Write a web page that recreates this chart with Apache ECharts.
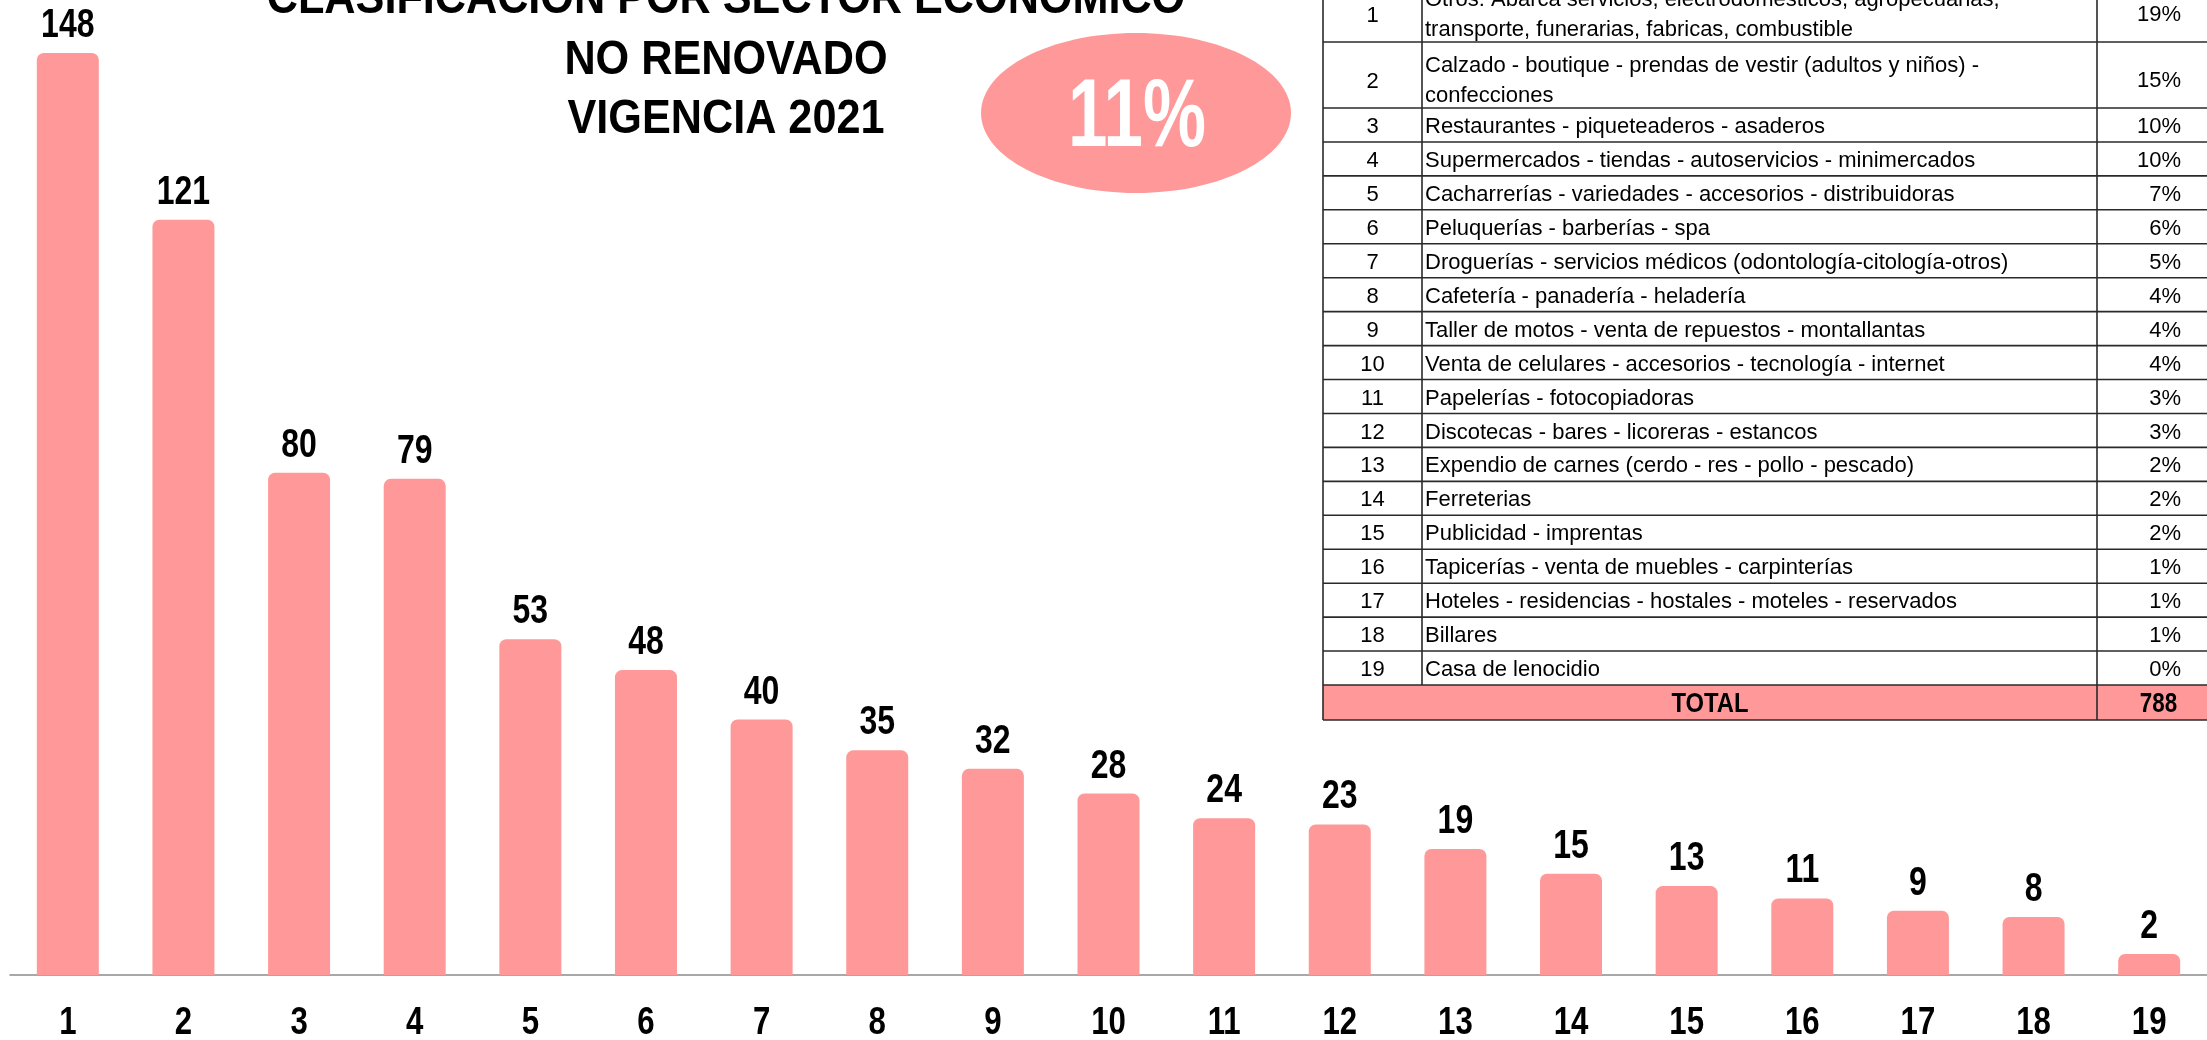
<!DOCTYPE html>
<html>
<head>
<meta charset="utf-8">
<script src="https://cdn.jsdelivr.net/npm/echarts@6/dist/echarts.min.js"></script>
<style>
html,body{margin:0;padding:0;background:#ffffff;}
#chart{width:2207px;height:1040px;}
</style>
</head>
<body>
<div id="chart"></div>
<script>
// ---------- DATA ----------
const categories = ['1','2','3','4','5','6','7','8','9','10','11','12','13','14','15','16','17','18','19'];
const counts = [148,121,80,79,53,48,40,35,32,28,24,23,19,15,13,11,9,8,2];
const sectorNames = [
  'Otros: Abarca servicios, electrodomesticos, agropecuarias,\ntransporte, funerarias, fabricas, combustible',
  'Calzado - boutique - prendas de vestir (adultos y niños) -\nconfecciones',
  'Restaurantes - piqueteaderos - asaderos',
  'Supermercados - tiendas - autoservicios - minimercados',
  'Cacharrerías - variedades - accesorios - distribuidoras',
  'Peluquerías - barberías - spa',
  'Droguerías - servicios médicos (odontología-citología-otros)',
  'Cafetería - panadería - heladería',
  'Taller de motos - venta de repuestos - montallantas',
  'Venta de celulares - accesorios - tecnología - internet',
  'Papelerías - fotocopiadoras',
  'Discotecas - bares - licoreras - estancos',
  'Expendio de carnes (cerdo - res - pollo - pescado)',
  'Ferreterias',
  'Publicidad - imprentas',
  'Tapicerías - venta de muebles - carpinterías',
  'Hoteles - residencias - hostales - moteles - reservados',
  'Billares',
  'Casa de lenocidio'
];
const sectorPercents = ['19%','15%','10%','10%','7%','6%','5%','4%','4%','4%','3%','3%','2%','2%','2%','1%','1%','1%','0%'];
const titleLines = ['CLASIFICACION POR SECTOR ECONOMICO','NO RENOVADO','VIGENCIA 2021'];
const highlightPercent = '11%';
const totalLabel = 'TOTAL';
const totalValue = '788';

// ---------- STYLE / LAYOUT ----------
const PINK = '#FF9999';
const SANS = "'Liberation Sans',Arial,sans-serif";
const Y_MIN = -1.41, Y_MAX = 156.6;

const chart = echarts.init(document.getElementById('chart'), null, {renderer: 'canvas'});

// table layout
const tb = {left: 1323, c1: 1422, c2: 2097, right: 2220, bottomRowsEnd: 685, totalH: 35, dbl: 66};
const graphics = [];

// title
const titleY = [0, 61, 120];
titleLines.forEach((t, i) => {
  graphics.push({
    type: 'text', x: 726, y: titleY[i], scaleX: 0.9,
    style: {text: t, font: 'bold 48px ' + SANS, fill: '#000', align: 'center', verticalAlign: 'middle'}
  });
});
// ellipse with percentage
graphics.push({type: 'ellipse', shape: {cx: 1136, cy: 113, rx: 155, ry: 80}, style: {fill: PINK}});
graphics.push({
  type: 'text', x: 1137, y: 119, scaleX: 0.73,
  style: {text: highlightPercent, font: 'bold 97px ' + SANS, fill: '#fff', align: 'center', verticalAlign: 'middle'}
});

// table rows
const single = (tb.bottomRowsEnd - 42 - tb.dbl) / (sectorNames.length - 2);
let yTop = 42 - tb.dbl;
const lineStyle = {stroke: '#2a2a2a', lineWidth: 1.6};
const tableTop = yTop;
sectorNames.forEach((name, i) => {
  const lines = name.split('\n');
  const two = lines.length > 1;
  const h = two ? tb.dbl : single;
  const cy = yTop + h / 2 + 2;
  graphics.push({type: 'line', shape: {x1: tb.left, y1: yTop, x2: tb.right, y2: yTop}, style: lineStyle});
  graphics.push({type: 'text', x: (tb.left + tb.c1) / 2, y: cy + (two ? 5 : 0),
    style: {text: categories[i], font: '22px ' + SANS, fill: '#000', align: 'center', verticalAlign: 'middle'}});
  graphics.push({type: 'text', x: tb.c1 + 3, y: cy + (two ? 4 : 0),
    style: {text: name, font: '22px ' + SANS, lineHeight: 30, fill: '#000', align: 'left', verticalAlign: 'middle'}});
  graphics.push({type: 'text', x: 2181, y: cy + (two ? 4 : 0),
    style: {text: sectorPercents[i], font: '22px ' + SANS, fill: '#000', align: 'right', verticalAlign: 'middle'}});
  yTop += h;
});
// total row
graphics.push({type: 'rect', shape: {x: tb.left, y: yTop, width: tb.right - tb.left, height: tb.totalH}, style: {fill: PINK}});
graphics.push({type: 'line', shape: {x1: tb.left, y1: yTop, x2: tb.right, y2: yTop}, style: lineStyle});
graphics.push({type: 'line', shape: {x1: tb.left, y1: yTop + tb.totalH, x2: tb.right, y2: yTop + tb.totalH}, style: lineStyle});
graphics.push({type: 'text', x: (tb.left + tb.c2) / 2, y: yTop + tb.totalH / 2 + 2, scaleX: 0.85,
  style: {text: totalLabel, font: 'bold 28px ' + SANS, fill: '#000', align: 'center', verticalAlign: 'middle'}});
graphics.push({type: 'text', x: (tb.c2 + tb.right) / 2, y: yTop + tb.totalH / 2 + 2, scaleX: 0.8,
  style: {text: totalValue, font: 'bold 28px ' + SANS, fill: '#000', align: 'center', verticalAlign: 'middle'}});
// vertical lines
const tableBottom = yTop + tb.totalH;
graphics.push({type: 'line', shape: {x1: tb.left, y1: tableTop, x2: tb.left, y2: tableBottom}, style: lineStyle});
graphics.push({type: 'line', shape: {x1: tb.c1, y1: tableTop, x2: tb.c1, y2: yTop}, style: lineStyle});
graphics.push({type: 'line', shape: {x1: tb.c2, y1: tableTop, x2: tb.c2, y2: tableBottom}, style: lineStyle});

const option = {
  backgroundColor: '#ffffff',
  animation: false,
  grid: {left: 10, right: -3, top: 0, bottom: 65, containLabel: false},
  xAxis: {
    type: 'category',
    data: categories,
    axisLine: {show: true, onZero: false, lineStyle: {color: '#8c8c8c', width: 1.5}},
    axisTick: {show: false},
    axisLabel: {show: false},
    splitLine: {show: false}
  },
  yAxis: {
    type: 'value', min: Y_MIN, max: Y_MAX, startValue: Y_MIN, show: false,
    splitLine: {show: false}
  },
  series: [{
    type: 'bar',
    data: counts,
    barWidth: 62,
    itemStyle: {color: PINK, borderRadius: [7, 7, 0, 0]},
    z: 2
  }, {
    // value labels above bars (condensed bold)
    type: 'custom',
    silent: true,
    z: 3,
    data: counts.map((v, i) => [i, v]),
    encode: {x: 0, y: 1},
    renderItem: (params, api) => {
      const p = api.coord([api.value(0), api.value(1)]);
      return {
        type: 'text', x: p[0], y: p[1] - 27, scaleX: 0.8,
        style: {text: String(api.value(1)), font: 'bold 40px ' + SANS, fill: '#000', align: 'center', verticalAlign: 'middle'}
      };
    }
  }, {
    // category labels under the axis (condensed bold)
    type: 'custom',
    silent: true,
    z: 3,
    data: categories.map((c, i) => [i, Y_MIN]),
    encode: {x: 0, y: 1},
    renderItem: (params, api) => {
      const p = api.coord([api.value(0), Y_MIN]);
      return {
        type: 'text', x: p[0], y: p[1] + 48, scaleX: 0.8,
        style: {text: categories[params.dataIndex], font: 'bold 39px ' + SANS, fill: '#000', align: 'center', verticalAlign: 'middle'}
      };
    }
  }],
  graphic: graphics
};
chart.setOption(option);
</script>
</body>
</html>
